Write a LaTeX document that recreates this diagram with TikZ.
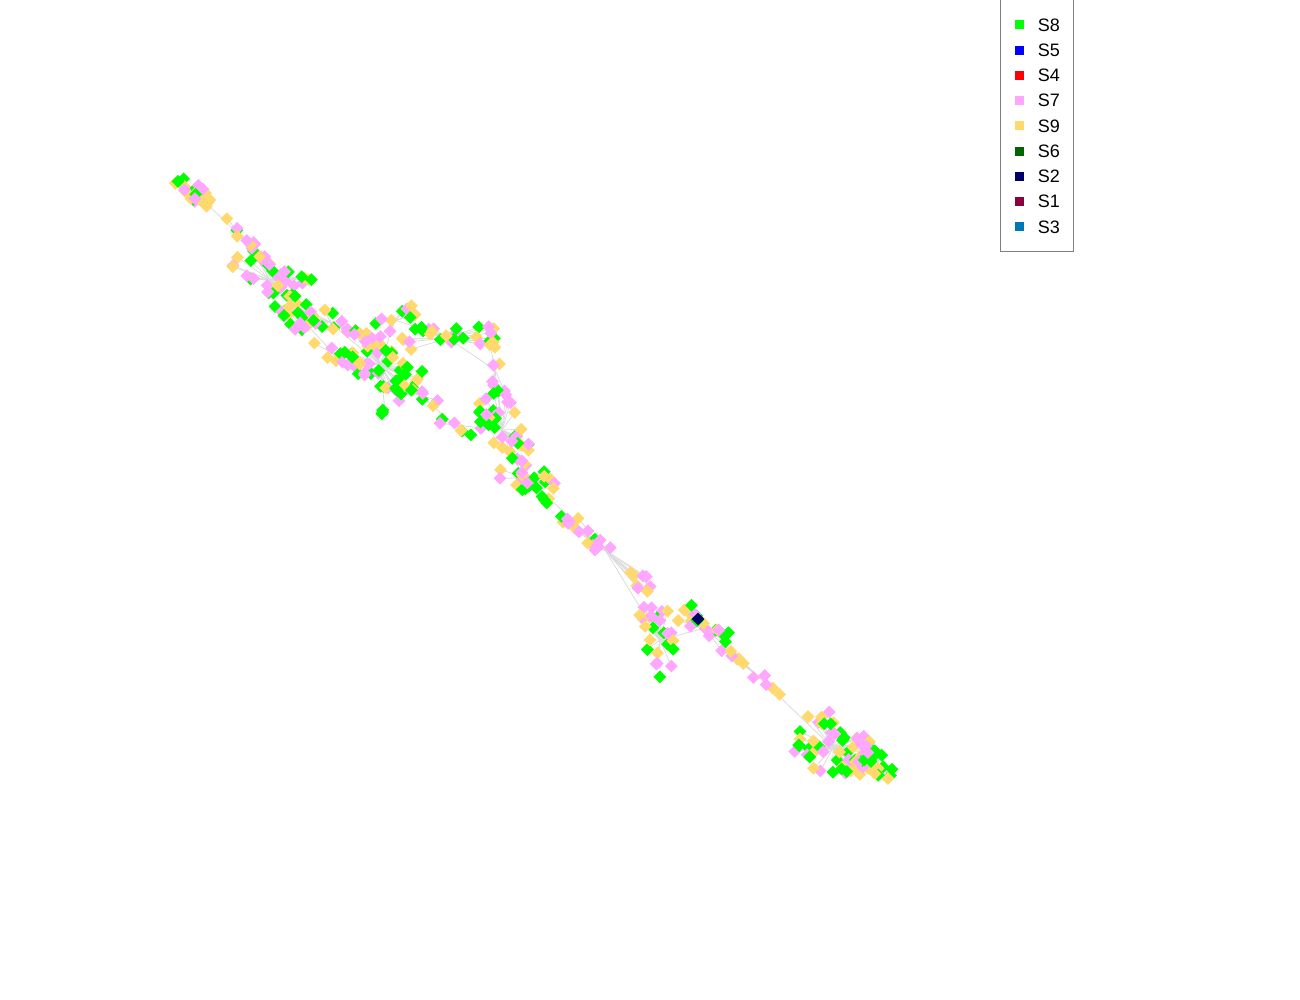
\documentclass[tikz,border=0pt]{standalone}
\usepackage{fontspec}
\setmainfont{Liberation Sans}
\usetikzlibrary{shapes.geometric,positioning}

\definecolor{sgreen}{RGB}{0,255,0}
\definecolor{sblue}{RGB}{0,0,255}
\definecolor{sred}{RGB}{255,0,0}
\definecolor{spink}{RGB}{255,166,255}
\definecolor{syellow}{RGB}{255,217,110}
\definecolor{sdkgreen}{RGB}{0,100,0}
\definecolor{snavy}{RGB}{0,0,102}
\definecolor{swine}{RGB}{140,0,60}
\definecolor{steal}{RGB}{0,120,180}

% clusters: centre / angle / half length / half width / count
\def\blobs{192/190/40/22/9/25, 245/240/42/40/5/16, 270/280/20/40/15/30,
	295/312/50/22/14/18, 330/322/30/22/9/14, 335/355/20/25/8/8,
	380/365/35/40/20/50, 385/410/90/10/4/3, 420/395/25/25/8/12,
	448/338/0/48/12/30, 395/320/-30/25/10/10, 495/370/80/28/6/6,
	455/425/30/20/6/6, 502/430/65/38/20/35, 527/478/30/30/14/30,
	605/550/42/62/8/26, 660/640/78/38/15/26, 705/628/35/28/11/22,
	760/678/40/42/5/10, 833/748/35/40/28/55, 876/765/30/26/12/22}

\begin{document}
\begin{tikzpicture}[x=1pt,y=-1pt]
	\tikzset{pt/.style={diamond,inner sep=0pt,minimum size=13pt},
		link/.style={draw=black!14,line width=0.8pt},
		keybox/.style={rectangle,inner sep=0pt,minimum size=9pt},
		keytext/.style={inner sep=0pt,font=\fontsize{18}{20}\selectfont}}
	\useasboundingbox (0,0) rectangle (1300,1000);
	\pgfmathsetseed{11}
	\pgfmathdeclarerandomlist{pal}{{sgreen}{spink}{syellow}}
	% positions and links first, so the links lie under the markers
	\foreach \bx/\by/\ang/\ba/\bb/\bn [count=\k] in \blobs{
		\coordinate (c\k) at (\bx,\by);
		\foreach \i in {1,...,\bn}{
			\pgfmathsetmacro\u{\ba*rand}
			\pgfmathsetmacro\v{\bb*rand}
			\pgfmathsetmacro\px{\bx+\u*cos(\ang)-\v*sin(\ang)}
			\pgfmathsetmacro\py{\by+\u*sin(\ang)+\v*cos(\ang)}
			\coordinate (p\k-\i) at (\px,\py);
			\draw[link] (c\k) -- (p\k-\i);
		}
	}
	\coordinate (q) at (698,619);
	\draw[link] (c1) -- (c2) -- (c3) -- (c4) -- (c5) -- (c7) -- (c9) -- (c13) -- (c14) -- (c15)
		-- (c16) -- (c17) -- (c18) -- (c19) -- (c20) -- (c21);
	\draw[link] (c4) -- (c6) -- (c7) -- (c8);
	\draw[link] (c7) -- (c11) -- (c10) -- (c12) -- (c14);
	\draw[link] (c18) -- (q);
	\foreach \bx/\by/\ang/\ba/\bb/\bn [count=\k] in \blobs{
		\foreach \i in {1,...,\bn}{
			\pgfmathrandomitem\col{pal}
			\node[pt,fill=\col] (n\k-\i) at (p\k-\i) {};
		}
	}
	% the one S2 node
	\node[pt,fill=snavy] (stwo) at (q) {};
	% legend
	\draw[draw=black!50,line width=0.8pt] (1000.5,-2) rectangle (1073,251.5);
	\foreach \name/\col [count=\j from 0] in
		{S8/sgreen, S5/sblue, S4/sred, S7/spink, S9/syellow,
		 S6/sdkgreen, S2/snavy, S1/swine, S3/steal}{
		\node[keybox,fill=\col] (k\j) at (1019,25+25.25*\j) {};
		\node[keytext,right=14pt of k\j] (t\j) {\name};
	}
\end{tikzpicture}
\end{document}
